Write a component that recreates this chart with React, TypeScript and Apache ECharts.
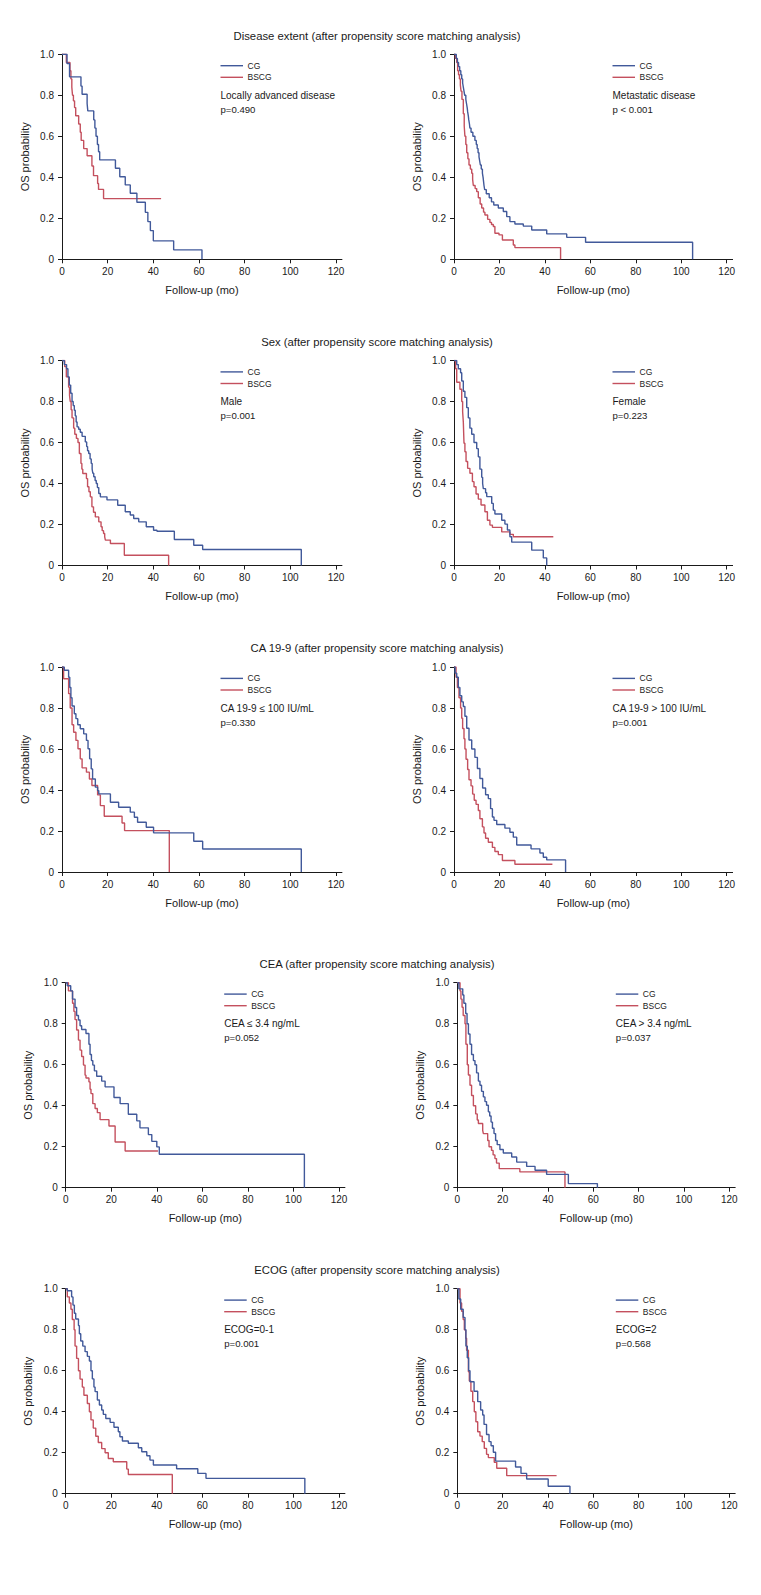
import React, { useEffect, useRef } from "react";
import * as echarts from "echarts";

// ---------- tick labels / text ----------
const xTicks = [0, 20, 40, 60, 80, 100, 120];
const yTicks = [0, 0.2, 0.4, 0.6, 0.8, 1.0];
const groupNames = ["CG", "BSCG"];
const xAxisName = "Follow-up (mo)";
const yAxisName = "OS probability";
const rowTitles = [
  "Disease extent (after propensity score matching analysis)",
  "Sex (after propensity score matching analysis)",
  "CA 19-9 (after propensity score matching analysis)",
  "CEA (after propensity score matching analysis)",
  "ECOG (after propensity score matching analysis)",
];
const subgroupLabels = [
  "Locally advanced disease",
  "Metastatic disease",
  "Male",
  "Female",
  "CA 19-9 \u2264 100 IU/mL",
  "CA 19-9 > 100 IU/mL",
  "CEA \u2264 3.4 ng/mL",
  "CEA > 3.4 ng/mL",
  "ECOG=0-1",
  "ECOG=2",
];
const pValues = [
  "p=0.490", "p < 0.001", "p=0.001", "p=0.223", "p=0.330",
  "p=0.001", "p=0.052", "p=0.037", "p=0.001", "p=0.568",
];

// ---------- survival curves: [month, survival] ----------
const localCG = [[0,1],[2.2,0.955],[3.3,0.89],[8.3,0.845],[8.8,0.805],[11,0.76],[11.3,0.724],[13.9,0.68],[14.4,0.64],[14.9,0.6],[15.5,0.56],[16,0.525],[16.5,0.485],[23.4,0.444],[25.3,0.403],[27.7,0.363],[29.9,0.322],[32.8,0.278],[36.5,0.229],[37.6,0.184],[38.7,0.14],[40,0.09],[48.9,0.046],[61.3,0]];
const localBSCG = [[0,1],[1.9,0.96],[3.5,0.92],[3.9,0.88],[4.3,0.84],[4.6,0.8],[5,0.773],[5.5,0.74],[6,0.7],[7.3,0.66],[8,0.62],[8.4,0.58],[9.5,0.54],[11,0.505],[13.1,0.455],[13.8,0.408],[15.6,0.37],[16,0.341],[18.2,0.296],[43.4,0.296]];

const metaCG = [[0,1],[1,0.98],[1.5,0.96],[2,0.94],[2.5,0.92],[3,0.9],[3.4,0.88],[3.8,0.86],[4.1,0.84],[4.4,0.82],[4.7,0.8],[5.2,0.78],[5.5,0.76],[5.8,0.74],[6,0.72],[6.3,0.7],[6.5,0.68],[6.8,0.66],[7,0.64],[7.5,0.62],[8.3,0.6],[9.2,0.58],[9.8,0.56],[10.2,0.54],[10.6,0.52],[11,0.5],[11.3,0.48],[11.6,0.46],[12,0.44],[12.5,0.42],[12.8,0.4],[13,0.38],[13.2,0.36],[13.5,0.34],[14.2,0.32],[15.5,0.3],[16.5,0.28],[17.5,0.265],[19.5,0.25],[21.7,0.233],[23.2,0.208],[24.6,0.184],[26.8,0.172],[30.5,0.162],[34.2,0.143],[40.8,0.124],[49.6,0.107],[57.9,0.083],[105,0]];
const metaBSCG = [[0,1],[0.6,0.98],[1.2,0.96],[1.6,0.92],[2,0.9],[2.4,0.88],[2.8,0.85],[3.1,0.82],[3.5,0.78],[4.1,0.71],[4.5,0.65],[4.8,0.6],[5.2,0.56],[5.6,0.52],[6.1,0.49],[6.6,0.46],[7.2,0.44],[7.8,0.42],[8.2,0.39],[8.5,0.36],[9.3,0.345],[10,0.33],[10.7,0.3],[11.5,0.27],[12.2,0.25],[13,0.23],[13.6,0.216],[14.8,0.195],[15.8,0.18],[16.5,0.17],[17.3,0.16],[18,0.127],[19.8,0.119],[21.3,0.094],[26.1,0.07],[26.8,0.057],[46.9,0]];

const maleCG = [[0,1],[1,0.98],[2,0.96],[2.6,0.92],[3.2,0.88],[3.8,0.84],[4.4,0.8],[4.9,0.78],[5.4,0.757],[5.8,0.73],[6.2,0.7],[6.6,0.676],[7.3,0.665],[8,0.65],[8.8,0.63],[10.2,0.603],[10.8,0.58],[11.2,0.56],[11.7,0.546],[12.3,0.52],[12.8,0.498],[13.2,0.47],[13.5,0.45],[13.9,0.433],[14.5,0.415],[15,0.4],[15.5,0.38],[16.1,0.351],[16.8,0.335],[19.7,0.32],[24.4,0.294],[27.7,0.262],[29.9,0.246],[31.4,0.229],[33.6,0.213],[36.9,0.189],[40.1,0.172],[41.6,0.167],[49.2,0.127],[57.7,0.099],[61.6,0.078],[104.8,0]];
const maleBSCG = [[0,1],[1.2,0.97],[1.9,0.92],[2.9,0.87],[3.3,0.83],[3.6,0.8],[4,0.76],[4.4,0.72],[5.1,0.67],[5.6,0.64],[6.3,0.62],[7,0.6],[7.6,0.546],[8.3,0.498],[8.7,0.47],[9.1,0.449],[10.7,0.424],[11.2,0.384],[11.8,0.36],[12.4,0.335],[13.1,0.286],[13.8,0.26],[14.6,0.237],[16.1,0.213],[17.1,0.189],[17.6,0.17],[18.2,0.156],[18.7,0.14],[19,0.124],[21.2,0.107],[27.3,0.05],[46.7,0]];

const femaleCG = [[0,1],[1.2,0.98],[1.9,0.96],[2.9,0.94],[3.4,0.9],[4.1,0.85],[4.8,0.82],[5.6,0.77],[6.3,0.72],[7,0.67],[7.8,0.64],[8.8,0.6],[10,0.57],[10.7,0.53],[11.4,0.47],[12.2,0.43],[12.6,0.4],[12.9,0.375],[13.9,0.355],[14.4,0.336],[16.6,0.303],[17.3,0.27],[18,0.251],[21,0.221],[22.4,0.202],[23.5,0.173],[24.6,0.14],[25.4,0.114],[34.2,0.075],[39.3,0.037],[40.8,0]];
const femaleBSCG = [[0,1],[0.7,0.96],[1.2,0.894],[2.6,0.86],[3.4,0.8],[3.8,0.75],[4.1,0.7],[4.4,0.596],[4.8,0.555],[5.3,0.507],[6,0.474],[7,0.45],[8.1,0.409],[8.8,0.384],[9.7,0.349],[10.7,0.324],[11.9,0.295],[13.6,0.262],[14.7,0.221],[15.8,0.197],[16.9,0.186],[21,0.164],[24.6,0.152],[26.1,0.14],[43.7,0.14]];

const caLowCG = [[0,1],[1,0.984],[2.9,0.95],[3.4,0.9],[3.9,0.85],[4.4,0.81],[5.4,0.772],[6.1,0.748],[6.9,0.718],[8,0.699],[9.5,0.674],[10.7,0.642],[11.4,0.601],[12.1,0.552],[12.8,0.503],[13.4,0.454],[14.6,0.414],[15.6,0.397],[16.1,0.381],[21.2,0.34],[24.8,0.316],[29.9,0.292],[31.7,0.267],[33.1,0.243],[36.9,0.218],[40.1,0.191],[57.7,0.15],[61.6,0.112],[104.8,0]];
const caLowBSCG = [[0,1],[0.7,0.943],[2.9,0.87],[3.6,0.8],[4.4,0.718],[5.1,0.682],[6.1,0.642],[7,0.601],[8,0.552],[8.8,0.508],[10.7,0.487],[12,0.454],[13.1,0.422],[15.6,0.376],[16.8,0.324],[18.5,0.272],[26.3,0.239],[27.4,0.202],[47,0]];

const caHighCG = [[0,1],[0.5,0.97],[1.2,0.95],[1.9,0.9],[2.6,0.86],[3.4,0.83],[4.1,0.807],[4.8,0.76],[5.6,0.701],[6.6,0.644],[7.8,0.6],[9.2,0.559],[10.3,0.505],[11.4,0.456],[12.6,0.41],[13.9,0.377],[15.1,0.358],[16.1,0.309],[16.9,0.268],[17.6,0.252],[18.8,0.232],[22.4,0.214],[24.6,0.194],[26.1,0.17],[27.6,0.132],[33.9,0.113],[37.8,0.093],[39.3,0.072],[40.8,0.059],[49.1,0]];
const caHighBSCG = [[0,1],[0.9,0.95],[1.5,0.9],[2.2,0.85],[2.9,0.8],[3.4,0.75],[3.8,0.7],[4.4,0.65],[4.8,0.6],[5.3,0.55],[6,0.5],[6.6,0.45],[7.5,0.42],[8.2,0.38],[8.9,0.35],[9.7,0.33],[10.7,0.3],[11.4,0.26],[12.5,0.22],[13.2,0.19],[13.9,0.165],[15.1,0.145],[16.9,0.12],[18,0.1],[19.5,0.085],[21.3,0.056],[26.8,0.038],[43.3,0.038]];

const ceaLowCG = [[0,1],[0.7,0.985],[2.2,0.96],[3,0.92],[4.1,0.879],[4.8,0.84],[5.6,0.818],[6.3,0.79],[7,0.772],[8.9,0.752],[10.2,0.7],[10.7,0.65],[11.3,0.62],[11.9,0.598],[12.6,0.57],[13.6,0.544],[15.8,0.52],[17.3,0.492],[21.2,0.44],[23.9,0.41],[27.5,0.358],[31.2,0.326],[32.6,0.292],[36.3,0.259],[37.8,0.226],[40,0.199],[41.1,0.163],[104.8,0]];
const ceaLowBSCG = [[0,1],[1.2,0.96],[3,0.9],[3.6,0.86],[4.1,0.82],[4.8,0.769],[5.6,0.72],[6.3,0.671],[7,0.64],[7.8,0.598],[8.5,0.549],[8.9,0.535],[10.2,0.516],[10.7,0.48],[11.1,0.459],[11.9,0.41],[12.9,0.386],[13.9,0.366],[15.1,0.332],[19,0.301],[21.7,0.223],[26.1,0.179],[40.5,0.179]];

const ceaHighCG = [[0,1],[0.7,0.97],[2.4,0.94],[2.9,0.9],[3.7,0.85],[4.3,0.8],[4.9,0.75],[5.6,0.7],[6.3,0.65],[7.1,0.62],[7.8,0.6],[8.5,0.56],[9.3,0.52],[10,0.5],[10.7,0.47],[11.5,0.443],[12.2,0.42],[12.9,0.402],[13.7,0.37],[14.3,0.35],[14.9,0.32],[15.5,0.29],[16.2,0.264],[16.9,0.23],[17.6,0.21],[18.8,0.186],[20.3,0.169],[24,0.15],[26.2,0.125],[30.6,0.104],[34.3,0.085],[39.4,0.065],[49,0.02],[61.8,0]];
const ceaHighBSCG = [[0,1],[1.2,0.96],[1.6,0.92],[2.1,0.88],[2.6,0.84],[3.4,0.8],[3.8,0.7],[4.4,0.6],[4.9,0.55],[5.6,0.5],[6.3,0.45],[7.1,0.4],[8.1,0.36],[8.8,0.33],[9.3,0.313],[11.2,0.28],[11.5,0.264],[13.4,0.23],[14,0.2],[15.1,0.182],[15.8,0.16],[16.6,0.142],[17.3,0.12],[18.5,0.093],[27.6,0.077],[47.5,0]];

const ecogLowCG = [[0,1],[0.7,0.99],[2.6,0.96],[3.2,0.92],[3.8,0.88],[4.4,0.852],[5.6,0.82],[6,0.78],[6.6,0.745],[7.5,0.72],[8.5,0.693],[9.5,0.67],[10.4,0.647],[11.1,0.6],[11.7,0.56],[12.4,0.52],[12.9,0.498],[13.9,0.457],[14.8,0.433],[15.8,0.408],[16.5,0.387],[17.6,0.367],[19.5,0.348],[21.2,0.324],[23.1,0.302],[23.8,0.278],[24.9,0.257],[27.5,0.246],[31.9,0.224],[33.4,0.205],[35.6,0.185],[37,0.164],[38.5,0.14],[48.7,0.122],[58,0.099],[61.6,0.075],[105,0]];
const ecogLowBSCG = [[0,1],[0.7,0.96],[1.6,0.93],[2.3,0.9],[2.9,0.85],[3.7,0.8],[4.1,0.72],[4.8,0.66],[5.6,0.6],[6.3,0.559],[7.3,0.52],[8,0.48],[9.5,0.44],[10.4,0.4],[11.1,0.36],[12.1,0.32],[13.2,0.28],[14.3,0.25],[15.8,0.22],[17.3,0.2],[18.7,0.172],[20.9,0.156],[26.8,0.12],[27.5,0.094],[46.8,0]];

const ecogHighCG = [[0,1],[0.7,0.95],[1.5,0.9],[2.6,0.86],[3.4,0.8],[3.8,0.72],[4.4,0.663],[5,0.6],[5.6,0.546],[7.4,0.5],[9,0.449],[10.3,0.408],[11.2,0.384],[11.8,0.338],[12.9,0.289],[14,0.254],[14.9,0.234],[15.9,0.202],[16.9,0.159],[25.7,0.13],[28.1,0.099],[30.6,0.072],[40.1,0.036],[49.7,0]];
const ecogHighBSCG = [[0,1],[1.2,0.93],[1.9,0.89],[2.6,0.85],[3.1,0.8],[3.7,0.758],[4.1,0.7],[4.9,0.595],[5.3,0.55],[6,0.5],[6.8,0.449],[7.5,0.4],[8.2,0.351],[9,0.302],[10,0.281],[11,0.254],[11.9,0.221],[12.9,0.192],[13.7,0.176],[16.3,0.153],[17.4,0.124],[21.8,0.088],[43.8,0.088]];

const panelCurves = [
  [localCG, localBSCG], [metaCG, metaBSCG],
  [maleCG, maleBSCG], [femaleCG, femaleBSCG],
  [caLowCG, caLowBSCG], [caHighCG, caHighBSCG],
  [ceaLowCG, ceaLowBSCG], [ceaHighCG, ceaHighBSCG],
  [ecogLowCG, ecogLowBSCG], [ecogHighCG, ecogHighBSCG],
];

// ---------- layout / style ----------
const COLORS = ["#41599a", "#c4505e"];
const FONT = "'Liberation Sans', Arial, sans-serif";
const AXIS_COLOR = "#1a1a1a";
const TEXT_COLOR = "#1a1a1a";
const X_MAX = 122.6;
const panelLeft = [62, 454, 62, 454, 62, 454, 65.7, 457.3, 65.7, 457.3];
const panelW120 = [274, 272.7, 274, 272.7, 274, 272.7, 273.3, 272, 273.3, 272];
const rowTop = [54.3, 360.5, 667, 982.7, 1288.7];
const PLOT_H = 205;
const TITLE_X = 377;

function buildOption() {
  const grid: any[] = [];
  const xAxis: any[] = [];
  const yAxis: any[] = [];
  const series: any[] = [];
  const graphic: any[] = [];

  rowTitles.forEach((t, r) => {
    graphic.push({
      type: "text",
      x: TITLE_X,
      y: rowTop[r] - 18.8,
      silent: true,
      style: {
        text: t,
        fill: TEXT_COLOR,
        font: `11.3px ${FONT}`,
        textAlign: "center",
        textVerticalAlign: "middle",
      },
    });
  });

  panelCurves.forEach((curves, i) => {
    const r = Math.floor(i / 2);
    const left = panelLeft[i];
    const top = rowTop[r];
    const width = (panelW120[i] * X_MAX) / 120;
    grid.push({ left, top, width, height: PLOT_H, containLabel: false });
    xAxis.push({
      gridIndex: i,
      type: "value",
      min: 0,
      max: X_MAX,
      splitLine: { show: false },
      axisLine: { show: true, onZero: false, lineStyle: { color: AXIS_COLOR, width: 1 } },
      axisTick: { show: true, length: 4, customValues: xTicks, lineStyle: { color: AXIS_COLOR, width: 1 } },
      axisLabel: { customValues: xTicks, margin: 7, fontSize: 10, color: TEXT_COLOR, fontFamily: FONT },
      name: xAxisName,
      nameLocation: "middle",
      nameGap: 25,
      nameTextStyle: { fontSize: 11, color: TEXT_COLOR, fontFamily: FONT },
    });
    yAxis.push({
      gridIndex: i,
      type: "value",
      min: 0,
      max: 1,
      interval: 0.2,
      splitLine: { show: false },
      axisLine: { show: true, onZero: false, lineStyle: { color: AXIS_COLOR, width: 1 } },
      axisTick: { show: true, length: 4, lineStyle: { color: AXIS_COLOR, width: 1 } },
      axisLabel: {
        margin: 8,
        fontSize: 10,
        color: TEXT_COLOR,
        fontFamily: FONT,
        formatter: (v: number) => (v === 0 ? "0" : v.toFixed(1)),
      },
      name: yAxisName,
      nameLocation: "middle",
      nameGap: 32,
      nameTextStyle: { fontSize: 11, color: TEXT_COLOR, fontFamily: FONT },
    });
    curves.forEach((data, k) => {
      series.push({
        type: "line",
        name: groupNames[k],
        xAxisIndex: i,
        yAxisIndex: i,
        data,
        step: "end",
        symbol: "none",
        silent: true,
        z: k === 0 ? 3 : 2,
        lineStyle: { color: COLORS[k], width: 1.4 },
        itemStyle: { color: COLORS[k] },
      });
    });

    // legend block
    const lx = left + 158.5;
    [11.4, 23].forEach((dy, k) => {
      graphic.push({
        type: "line",
        silent: true,
        shape: { x1: lx, y1: top + dy, x2: lx + 22.5, y2: top + dy },
        style: { stroke: COLORS[k], lineWidth: 1.4 },
      });
      graphic.push({
        type: "text",
        silent: true,
        x: lx + 27,
        y: top + dy,
        style: {
          text: groupNames[k],
          fill: TEXT_COLOR,
          font: `8.5px ${FONT}`,
          textAlign: "left",
          textVerticalAlign: "middle",
        },
      });
    });
    graphic.push({
      type: "text",
      silent: true,
      x: lx,
      y: top + 41,
      style: {
        text: subgroupLabels[i],
        fill: TEXT_COLOR,
        font: `10px ${FONT}`,
        textAlign: "left",
        textVerticalAlign: "middle",
      },
    });
    graphic.push({
      type: "text",
      silent: true,
      x: lx,
      y: top + 55,
      style: {
        text: pValues[i],
        fill: TEXT_COLOR,
        font: `9.6px ${FONT}`,
        textAlign: "left",
        textVerticalAlign: "middle",
      },
    });
  });

  return {
    animation: false,
    backgroundColor: "#ffffff",
    textStyle: { fontFamily: FONT },
    grid,
    xAxis,
    yAxis,
    series,
    graphic,
  };
}

export default function App() {
  const ref = useRef<HTMLDivElement>(null);
  useEffect(() => {
    if (!ref.current) return;
    const chart = echarts.init(ref.current, undefined, { renderer: "svg" });
    chart.setOption(buildOption());
    return () => chart.dispose();
  }, []);
  return (
    <div
      ref={ref}
      style={{ position: "absolute", left: 0, top: 0, width: 761, height: 1595, background: "#fff" }}
    />
  );
}
